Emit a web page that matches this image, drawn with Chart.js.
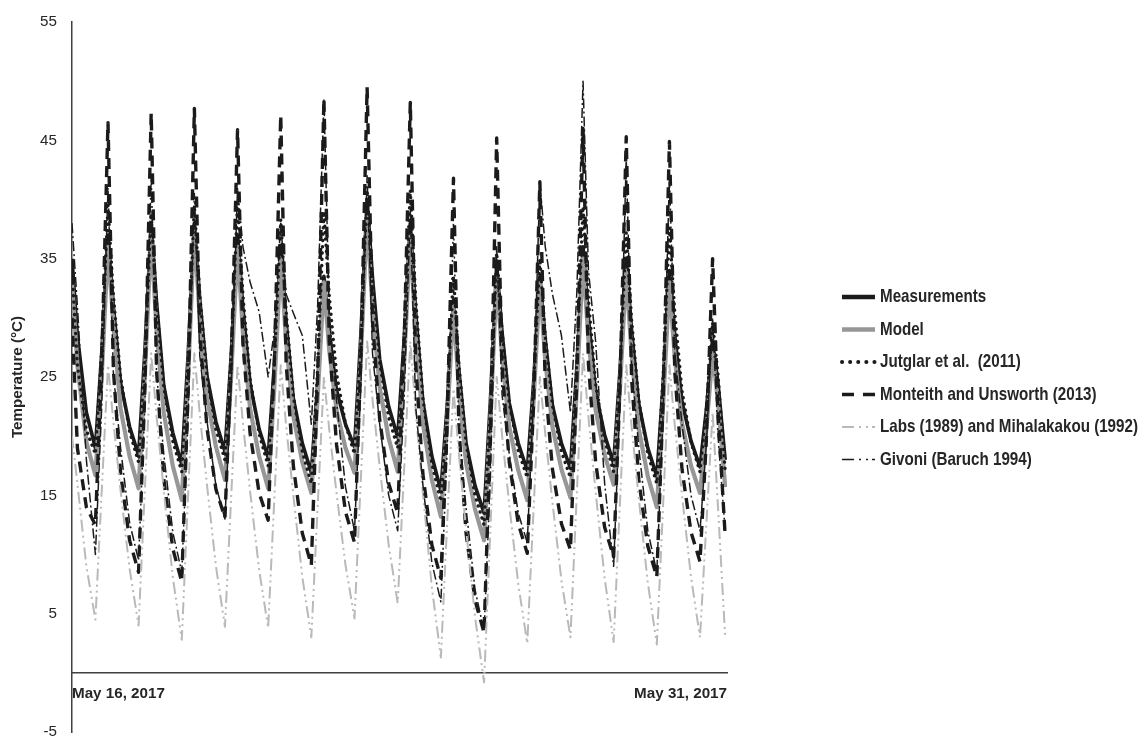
<!DOCTYPE html>
<html><head><meta charset="utf-8">
<script src="https://cdn.jsdelivr.net/npm/chart.js@4.4.1/dist/chart.umd.min.js"></script>
<style>html,body{margin:0;padding:0;background:#fff;overflow:hidden}</style>
</head><body>
<canvas id="c" width="1147" height="745"></canvas>
<script>
// ---- data (hours since May 16, 2017 00:00) ----
const hours = [0,3,8,13,16.5,20,23,27,32,37,40.5,44,47,51,56,61,64.5,68,71,75,80,85,88.5,92,95,99,104,109,112.5,116,119,123,128,133,136.5,140,143,147,152,157,160.5,164,167,171,176,181,184.5,188,191,195,200,205,208.5,212,215,219,224,229,232.5,236,239,243,248,253,256.5,260,263,267,272,277,280.5,284,287,291,296,301,304.5,308,311,315,320,325,328.5,332,335,339,344,349,352.5,356,359,363];
const measurements = [35, 28.5,22,19.0,27,37,31, 24.5,20.8,18.4,27.2,38,31.3, 24.3,20.3,17.6,26.8,38,31.6, 25.1,21.2,18.7,26.9,37,30.8, 24.4,20.6,18.2,26.2,36,29.7, 23.2,19.4,16.9,24.4,33.5,28.7, 23.9,21.0,19.1,28.5,40,33.4, 26.5,22.5,19.9,28.0,38,30.5, 22.9,18.3,15.4,22.6,31.5,25.6, 19.4,15.8,13.5,23.0,34.5,28.8, 22.8,19.4,17.1,24.5,33.5,28.2, 22.6,19.4,17.3,25.7,36,30.0, 23.7,20.1,17.7,25.5,35,28.9, 22.7,19.0,16.6,24.4,34,28.5, 22.9,19.6,17.4,22.2,28,24.5, 18];
const model = [33, 26,19.5,16.7,25,36,29.5, 22.3,18.3,15.6,25.2,37,28.9, 22.0,17.5,14.6,24.9,37.5,29.9, 23.3,19.1,16.3,25.2,36,28.7, 22.3,18.3,15.6,24.3,35,27.9, 21.7,17.8,15.2,23.2,33,27.2, 22.2,19.0,16.9,26.6,38.5,30.8, 24.1,19.8,17.0,26.0,37,28.4, 21.1,16.3,13.2,21.2,31,23.9, 17.7,13.8,11.2,21.2,33.5,26.7, 20.8,17.1,14.6,22.9,33,26.4, 20.8,17.2,14.8,23.9,35,28.1, 22.2,18.4,15.9,24.0,34,26.8, 20.6,16.6,14.0,22.6,33,26.6, 21.1,17.5,15.2,20.5,27,22.9, 15.7];
const jutglar = [34, 26,20.5,18.5,27.3,39.5,31.9, 25.0,20.4,17.8,26.6,38.8,31.2, 24.2,19.6,17,26.5,39.5,32.0, 25.1,20.6,18,27.1,39.7,31.9, 24.8,20.2,17.5,26.2,38.3,30.5, 23.4,18.7,16,25.7,39,31.8, 25.3,21.0,18.5,27.9,40.8,33.2, 26.2,21.6,19,28.2,40.8,31.6, 23.2,17.7,14.5,22.5,33.5,26.1, 19.4,15.0,12.5,22.2,35.5,28.9, 22.8,18.8,16.5,24.3,35,28.5, 22.6,18.7,16.5,26.1,39.4,31.6, 24.4,19.7,17,25.5,37.2,29.8, 23.0,18.5,16,25.1,37.6,30.4, 23.8,19.5,17,22.3,29.6,25.2, 17];
const monteith = [30, 19,14,12.5,26.1,46.5,25.6, 16.9,11.2,8.5,24.0,47.3,25.5, 16.4,10.5,7.7,23.7,47.7,28.7, 20.7,15.5,13.1,26.2,45.9,27.8, 20.2,15.2,12.9,26.6,47.1,26.2, 17.5,11.8,9.1,24.9,48.5,27.9, 19.3,13.6,11,26.4,49.5,29.7, 21.4,16.0,13.5,27.4,48.2,26.1, 16.8,10.8,8,21.5,41.8,20.7, 11.8,6.1,3.4,20.1,45.2,25.9, 17.8,12.6,10.1,22.7,41.5,24.4, 17.2,12.6,10.4,24.6,46,26.1, 17.8,12.3,9.8,24.0,45.3,24.8, 16.3,10.7,8.1,23.0,44.9,25.4, 17.2,11.9,9.4,19.6,35,22.1, 11.5];
const labs = [20, 16,9,4.5,15.3,26,21.2, 15.4,8.8,4,15.5,27,21.7, 15.4,8.1,2.8,14.9,27,21.9, 15.9,9.0,3.9,15.0,26,21.1, 15.3,8.7,3.8,14.9,26,20.9, 15.0,8.1,3,14.0,25,20.5, 15.2,9.1,4.6,16.3,28,23.1, 17.4,10.8,5.9,17.0,28,22.1, 15.2,7.2,1.3,12.7,24,18.5, 12.1,4.7,-0.8,12.1,25,20.1, 14.2,7.5,2.5,13.8,25,20.2, 14.4,7.8,3,15.0,27,21.6, 15.3,8.0,2.6,14.3,26,20.8, 14.7,7.6,2.4,14.2,26,20.9, 15.0,8.1,3,12.5,22,14, 3];
const givoni = [38, 31,18,10,22.4,41,25.3, 19.0,12.7,9.5,22.5,42,25.3, 18.5,11.9,8.5,21.3,40.5,26.8, 21.3,15.8,13,24.2,41,36, 33,30.5,25,29,38,32, 30.4,28.5,21,31,48.5,30.3, 23.0,15.7,12,24,42,27, 21,15,12,22.8,39,22.5, 15.9,9.3,6,18.8,38,20.8, 13.9,7.0,3.5,16.5,36,23.5, 18.5,13.5,11,23.2,41.5,36, 32,28.5,22,32,50,34, 28,16,9,22.8,43.5,26.0, 19.0,12.0,8.5,21.9,42,27, 21,15,12,19.2,30,20, 12];
const seriesNames = ['Measurements','Model','Jutglar et al.  (2011)','Monteith and Unsworth (2013)','Labs (1989) and Mihalakakou (1992)','Givoni (Baruch 1994)'];
const yTicks = [-5,5,15,25,35,45,55];
const xTickHours = [0,364];
const xTickLabels = ['May 16, 2017','May 31, 2017'];
const yTitle = 'Temperature (°C)';

// ---- fonts ----
function hasFont(name){
  const c=document.createElement('canvas').getContext('2d');
  const s='Monteith and Unsworth (2013) May 16';
  c.font='bold 18px monospace'; const a=c.measureText(s).width;
  c.font='bold 18px "'+name+'", monospace'; const b=c.measureText(s).width;
  return Math.abs(a-b)>0.5;
}
const NARROW = hasFont('Liberation Sans Narrow');
const FAMILY = NARROW ? '"Liberation Sans Narrow", "Liberation Sans", Arial, sans-serif' : '"Liberation Sans", Arial, sans-serif';
const FS = NARROW ? 18.5 : 15.2;
const TXT = '#262626', AX = '#3f3f3f';

function pts(arr){ return arr.map((v,i)=>({x:hours[i], y:v})); }

const styles = [
  {c:'#1b1b1b', w:3.6, dash:[], cap:'butt', lw:4.5, ldash:[]},
  {c:'#979797', w:4.2, dash:[], cap:'butt', lw:4.5, ldash:[]},
  {c:'#1b1b1b', w:3.4, dash:[0.1,6.2], cap:'round', lw:4, ldash:[0.1,8]},
  {c:'#1b1b1b', w:3.4, dash:[11,7], cap:'butt', lw:3.5, ldash:[12,9]},
  {c:'#b9b9b9', w:2, dash:[12,4,2,4,2,4], cap:'butt', lw:2, ldash:[12,5,2,5,2,4]},
  {c:'#1b1b1b', w:1.5, dash:[10,3,2,3], cap:'butt', lw:1.6, ldash:[12,5,2,5,2,4]}
];
const allSeries = [measurements, model, jutglar, monteith, labs, givoni];
const datasets = allSeries.map((arr,i)=>({
  label: seriesNames[i],
  data: pts(arr),
  borderColor: styles[i].c,
  borderWidth: styles[i].w,
  borderDash: styles[i].dash,
  borderCapStyle: styles[i].cap,
  borderJoinStyle: 'round',
  pointRadius: 0,
  tension: 0,
  fill: false,
  order: 6 - i
}));

// legend at the right, text drawn condensed like the original narrow font
const sideLegend = {
  id: 'sideLegend',
  afterDraw(chart){
    const ctx = chart.ctx;
    const lfs = NARROW ? 18.5 : 18.5;
    const sx = NARROW ? 1 : 0.82;
    datasets.forEach((ds,i)=>{
      const y = 297 + i*32.5;
      const st = styles[i];
      ctx.save();
      ctx.strokeStyle = st.c; ctx.lineWidth = st.lw; ctx.lineCap = st.cap;
      ctx.setLineDash(st.ldash);
      ctx.beginPath(); ctx.moveTo(842, y); ctx.lineTo(875, y); ctx.stroke();
      ctx.setLineDash([]);
      ctx.translate(880, y); ctx.scale(sx, 1);
      ctx.fillStyle = TXT; ctx.font = 'bold ' + lfs + 'px ' + FAMILY;
      ctx.textBaseline = 'middle'; ctx.textAlign = 'left';
      ctx.fillText(seriesNames[i], 0, 0);
      ctx.restore();
    });
  }
};

new Chart(document.getElementById('c'), {
  type: 'line',
  data: { datasets },
  plugins: [sideLegend],
  options: {
    responsive: false, animation: false, devicePixelRatio: 1,
    layout: { padding: { left: 0, right: 420, top: 22, bottom: 13 } },
    plugins: { legend: { display: false }, tooltip: { enabled: false } },
    scales: {
      x: {
        type: 'linear', min: 0, max: 364,
        position: { y: 0 },
        grid: { display: false, drawTicks: false },
        border: { display: true, color: AX, width: 1.5 },
        afterBuildTicks: s => { s.ticks = xTickHours.map(v=>({value:v})); },
        ticks: {
          align: 'inner', autoSkip: false, maxRotation: 0, padding: 12,
          color: TXT, font: { family: FAMILY, size: FS, weight: 'bold' },
          callback: (v, i) => xTickLabels[i]
        }
      },
      y: {
        type: 'linear', min: -5, max: 55,
        grid: { display: false, drawTicks: true, tickLength: 15 },
        border: { display: true, color: AX, width: 1.5 },
        afterBuildTicks: s => { s.ticks = yTicks.map(v=>({value:v})); },
        afterFit: s => { s.width = 72; },
        ticks: { padding: 0, color: TXT, font: { family: FAMILY, size: FS } },
        title: { display: true, text: yTitle, color: TXT, padding: { top: 9, bottom: 0 },
                 font: { family: FAMILY, size: FS, weight: 'bold' } }
      }
    }
  }
});
</script>
</body></html>
